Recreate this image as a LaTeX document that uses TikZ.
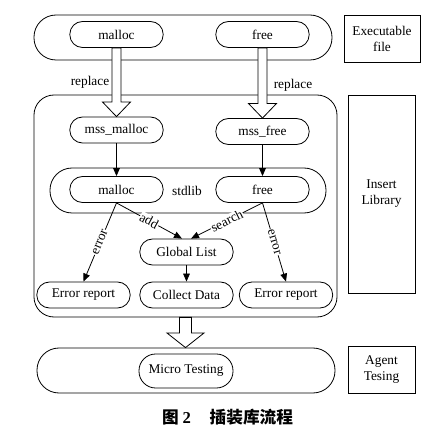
\documentclass[tikz,border=0pt]{standalone}
\usepackage{fontspec}
\setmainfont{Liberation Serif}
\newfontfamily\cjk{Noto Sans CJK SC}
\usetikzlibrary{calc,arrows.meta}

\tikzset{
  pill/.style={draw,fill=white,rounded corners=9.5pt,minimum width=70pt,minimum height=19.5pt,inner sep=1pt},
  container/.style={draw,rounded corners=16.5pt,minimum height=33.75pt},
  sidebox/.style={draw,align=center,inner sep=1pt},
  arr/.style={-{Triangle[length=6pt,width=5pt]}},
  lbl/.style={sloped,fill=white,inner sep=0.5pt}
}
% hollow arrow: from, to, half shaft width
\newcommand{\hollowarrow}[3]{%
  \draw[fill=white] let \p1=(#1), \p2=(#2) in
    (\x1-#3,\y1) -- (\x1+#3,\y1) -- (\x1+#3,\y2+11pt) -- (\x1+3.1*#3,\y2+11pt)
    -- (\x1,\y2) -- (\x1-3.1*#3,\y2+11pt) -- (\x1-#3,\y2+11pt) -- cycle;}

\begin{document}
\begin{tikzpicture}[x=0.75pt,y=-0.75pt,line width=0.6pt]
\useasboundingbox (0,0) rectangle (436,431);
% rammer
\node[container,minimum width=223.5pt] (exec) at (183,37.5) {};
\node[container,minimum width=227.25pt,minimum height=166.5pt,rounded corners=15pt] (inslib) at (185.5,206) {};
\node[container,minimum width=207pt] (stdlibbox) at (188,190.5) {};
\node[container,minimum width=223.5pt] (agent) at (186,370.5) {};
% bokser til hoyre
\node[sidebox,minimum width=57pt,minimum height=35.25pt] (execfile) at (382,38.5) {Executable\\file};
\node[sidebox,minimum width=50.25pt,minimum height=148.5pt] (insertlib) at (381.5,194) {Insert\\Library};
\node[sidebox,minimum width=50.25pt,minimum height=35.25pt] (agenttesing) at (381.5,369.5) {Agent\\Tesing};
% noder
\node[pill] (malloc1) at (116.5,34.5) {malloc};
\node[pill] (free1) at (262.5,34.5) {free};
\node[pill] (mssmalloc) at (116.5,130) {mss\_malloc};
\node[pill] (mssfree) at (262.5,131.5) {mss\_free};
\node[pill] (malloc2) at (116.5,189.5) {malloc};
\node[pill] (free2) at (262.5,189.5) {free};
\node (stdlib) at (187,191) {stdlib};
\node[pill] (glist) at (186.5,252) {Global List};
\node[pill] (errl) at (83.5,295) {Error report};
\node[pill] (collect) at (186.5,295) {Collect Data};
\node[pill] (errr) at (286,295) {Error report};
\node[pill,minimum width=70.5pt,minimum height=25.5pt,rounded corners=12.5pt] (micro) at (186,371) {Micro Testing};
\node (replaceL) at (90,82) {replace};
\node (replaceR) at (293,85) {replace};
% tykke piler
\hollowarrow{malloc1.south}{mssmalloc.north}{3.4pt}
\hollowarrow{free1.south}{mssfree.north}{3.4pt}
\hollowarrow{inslib.south}{agent.north}{4.5pt}
% piler
\draw[arr] (mssmalloc) -- (malloc2);
\draw[arr] (mssfree) -- (free2);
\draw[arr] (malloc2.south) -- node[lbl] {error} (errl.north);
\draw[arr] (malloc2.south) -- node[lbl] {add} ([xshift=-3.4pt]glist.north);
\draw[arr] (free2.south) -- node[lbl] {search} ([xshift=3.4pt]glist.north);
\draw[arr] (free2.south) -- node[lbl] {error} (errr.north);
\draw[arr] (glist) -- (collect);
% figurtekst
\node[font=\fontsize{12.5}{14}\selectfont\bfseries] (caption) at (227.5,417) {{\cjk 图}\hspace{3pt}2\hspace{14pt}{\cjk 插装库流程}};
\end{tikzpicture}
\end{document}
